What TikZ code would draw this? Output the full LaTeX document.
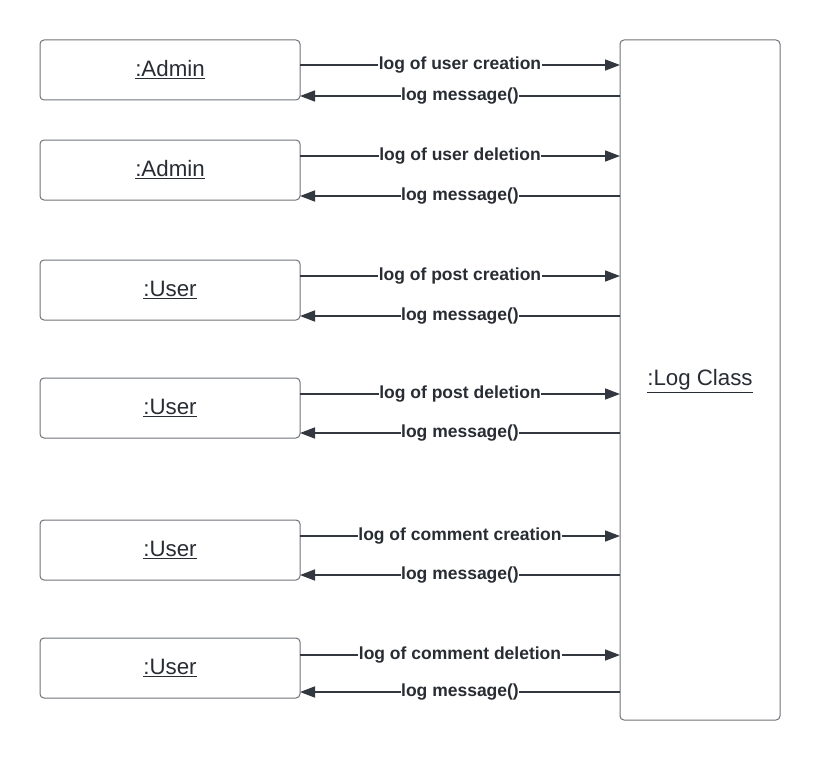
\documentclass[tikz,border=0pt]{standalone}
\usepackage{fontspec}
\setmainfont{Liberation Sans}
\usetikzlibrary{arrows.meta}
\definecolor{linec}{HTML}{333840}
\definecolor{boxc}{HTML}{6E7278}
\definecolor{txtc}{HTML}{282C33}
\tikzset{
  objbox/.style={draw=boxc, line width=1pt, rounded corners=4pt, fill=white},
  objtext/.style={font=\fontsize{22.3}{26}\selectfont, text=txtc},
  msg/.style={draw=linec, line width=1.6pt, -{Triangle[length=15pt,width=11pt]}},
  msglabel/.style={font=\fontsize{17.5}{20}\selectfont\bfseries, text=txtc, fill=white, inner sep=0.5pt}
}
\begin{document}
\begin{tikzpicture}[x=1pt,y=-1pt]
\useasboundingbox (0,0) rectangle (820,760);
% Log class
\draw[objbox] (620,40) rectangle (780,720);
\node[objtext] (log) at (700,381) {\underline{:Log Class}};
% left boxes
\foreach \n/\t/\b/\lab/\o/\i/\ml in {
  a/40/100/{:Admin}/65/96/{log of user creation},
  b/140/200/{:Admin}/156/196/{log of user deletion},
  c/260/320/{:User}/276/316/{log of post creation},
  d/378/438/{:User}/394/433/{log of post deletion},
  e/520/580/{:User}/536/575/{log of comment creation},
  f/638/698/{:User}/655/692/{log of comment deletion}}{
  \draw[objbox] (40,\t) rectangle (300,\b);
  \node[objtext] (\n) at (170,{(\t+\b)/2}) {\underline{\lab}};
  \coordinate (\n o1) at (300,\o);
  \coordinate (\n o2) at (620,\o);
  \coordinate (\n i1) at (620,\i);
  \coordinate (\n i2) at (300,\i);
  \draw[msg] (\n o1) -- (\n o2) node[msglabel, pos=0.5] {\ml};
  \draw[msg] (\n i1) -- (\n i2) node[msglabel, pos=0.5] {log message()};
}
\end{tikzpicture}
\end{document}
